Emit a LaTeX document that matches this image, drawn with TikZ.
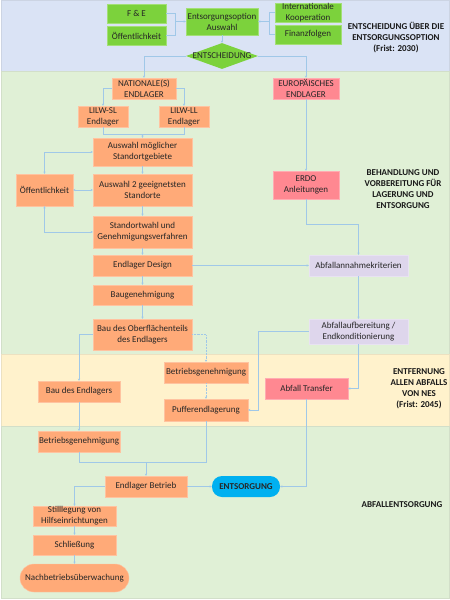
\documentclass[tikz,border=0pt]{standalone}
\usepackage{fontspec}
\setmainfont{Carlito}
\usepackage{xcolor}
\usetikzlibrary{
    arrows.meta,
    shapes.geometric,
    positioning
}
\definecolor{blueband}{RGB}{218,227,245}
\definecolor{greenband}{RGB}{224,240,214}
\definecolor{yellowband}{RGB}{255,242,204}
\definecolor{greenfill}{RGB}{124,210,60}
\definecolor{orangefill}{RGB}{255,170,120}
\definecolor{pinkfill}{RGB}{255,136,145}
\definecolor{lilafill}{RGB}{222,214,236}
\definecolor{pillblue}{RGB}{0,176,240}
\definecolor{linecol}{RGB}{160,200,232}
\tikzset{
    box/.style={rectangle, inner sep=0pt, align=center, text=black!85,
        font=\fontsize{9}{11}\selectfont, line width=0.4pt},
    greenbox/.style={box, fill=greenfill, draw=greenfill!70!white},
    orangebox/.style={box, fill=orangefill, draw=orangefill!70!white},
    pinkbox/.style={box, fill=pinkfill, draw=pinkfill!70!white},
    lilabox/.style={box, fill=lilafill, draw=lilafill!70!white},
    pillbox/.style={box, rounded corners=10pt},
    band/.style={line width=0.4pt},
    phase/.style={align=center, font=\fontsize{9}{11}\selectfont\bfseries, text=black!90},
    link/.style={draw=linecol, line width=0.45pt},
    arr/.style={link, -{Stealth[length=2.2pt,width=2.2pt]}},
    biarr/.style={link, {Stealth[length=2.2pt,width=2.2pt]}-{Stealth[length=2.2pt,width=2.2pt]}}
}

\begin{document}
\begin{tikzpicture}[x=1pt, y=-1pt]
    \useasboundingbox (0,0) rectangle (450,600);
    % bands
    \filldraw[band, fill=blueband, draw=blueband!85!gray] (1,0.5) rectangle (449,71);
    \filldraw[band, fill=greenband, draw=greenband!85!gray] (1,71) rectangle (449,354);
    \filldraw[band, fill=yellowband, draw=yellowband!85!gray] (1,354) rectangle (449,426);
    \filldraw[band, fill=greenband, draw=greenband!85!gray] (1,426) rectangle (449,598);

    \node[phase] (lblentsch) at (396,38) {ENTSCHEIDUNG ÜBER DIE\\ENTSORGUNGSOPTION\\(Frist: 2030)};
    \node[phase] (lblbehand) at (403,189) {BEHANDLUNG UND\\VORBEREITUNG FÜR\\LAGERUNG UND\\ENTSORGUNG};
    \node[phase] (lblentfern) at (419,389) {ENTFERNUNG\\ALLEN ABFALLS\\VON NES\\(Frist: 2045)};
    \node[phase] (lblabfall) at (402,505) {ABFALLENTSORGUNG};

    % option
    \node[greenbox, minimum width=59, minimum height=19] (fe) at (136.5,13.5) {F \& E};
    \node[greenbox, minimum width=59, minimum height=19] (oeffa) at (136.5,35.5) {Öffentlichkeit};
    \node[greenbox, minimum width=72, minimum height=27] (option) at (222,21.5) {Entsorgungsoption\\Auswahl};
    \node[greenbox, minimum width=66, minimum height=19] (intl) at (308,12.5) {Internationale\\Kooperation};
    \node[greenbox, minimum width=66, minimum height=19] (finanz) at (308,34.5) {Finanzfolgen};
    \node[diamond, fill=greenfill, inner sep=0pt, minimum width=72, minimum height=26,
        label={[box]center:ENTSCHEIDUNG}] (entsch) at (222,56) {};

    % national
    \node[orangebox, minimum width=64, minimum height=21] (nat) at (144,88.5) {NATIONALE(S)\\ENDLAGER};
    \node[pinkbox, minimum width=66, minimum height=21] (euro) at (306,88.5) {EUROPÄISCHES\\ENDLAGER};
    \node[orangebox, minimum width=50, minimum height=21] (lilwsl) at (103,116.5) {LILW-SL\\Endlager};
    \node[orangebox, minimum width=50, minimum height=21] (lilwll) at (184,116.5) {LILW-LL\\Endlager};
    \node[orangebox, minimum width=99, minimum height=28] (gebiete) at (142.5,152) {Auswahl möglicher\\Standortgebiete};
    \node[orangebox, minimum width=57, minimum height=32] (oeffb) at (44.5,190) {Öffentlichkeit};
    \node[orangebox, minimum width=99, minimum height=32] (orte) at (142.5,190) {Auswahl 2 geeignetsten\\Standorte};
    \node[orangebox, minimum width=99, minimum height=32] (standwahl) at (142.5,232) {Standortwahl und\\Genehmigungsverfahren};
    \node[orangebox, minimum width=99, minimum height=21] (design) at (142.5,265.5) {Endlager Design};
    \node[orangebox, minimum width=99, minimum height=20] (baugen) at (142.5,295) {Baugenehmigung};
    \node[orangebox, minimum width=99, minimum height=31] (oberfl) at (142.5,334.5) {Bau des Oberflächenteils\\des Endlagers};

    % waste
    \node[pinkbox, minimum width=66, minimum height=28] (erdo) at (306,185) {ERDO\\Anleitungen};
    \node[lilabox, minimum width=99, minimum height=21] (kriter) at (358.5,265.5) {Abfallannahmekriterien};
    \node[lilabox, minimum width=99, minimum height=25] (aufber) at (358.5,331.5) {Abfallaufbereitung /\\Endkonditionierung};
    \node[pinkbox, minimum width=83, minimum height=21] (transfer) at (306.5,388.5) {Abfall Transfer};

    % construction
    \node[orangebox, minimum width=84, minimum height=21] (betrgenb) at (206,372.5) {Betriebsgenehmigung};
    \node[orangebox, minimum width=84, minimum height=22] (puffer) at (206,410) {Pufferendlagerung};
    \node[orangebox, minimum width=82, minimum height=21] (bauend) at (79,391.5) {Bau des Endlagers};
    \node[orangebox, minimum width=82, minimum height=21] (betrgena) at (79,441.5) {Betriebsgenehmigung};

    % operation
    \node[orangebox, minimum width=82, minimum height=21] (betrieb) at (146,486.5) {Endlager Betrieb};
    \node[box, pillbox, fill=pillblue, minimum width=68, minimum height=21,
        font=\fontsize{9}{11}\selectfont\bfseries] (entsorg) at (246,486.5) {ENTSORGUNG};
    \node[orangebox, minimum width=83, minimum height=20] (stilll) at (74.5,516) {Stilllegung von\\Hilfseinrichtungen};
    \node[orangebox, minimum width=83, minimum height=20] (schliess) at (74.5,545) {Schließung};
    \node[orangebox, pillbox, rounded corners=14pt, minimum width=109, minimum height=28] (nachbetr) at (74.5,578) {Nachbetriebsüberwachung};

    % joints
    \coordinate (jopta) at (175,21.5);
    \coordinate (joptb) at (269,21.5);
    \coordinate (jlilw) at (142.5,134);
    \coordinate (jbetr) at (146,462);

    \draw[link] (fe.east) -| (jopta);
    \draw[link] (oeffa.east) -| (jopta);
    \draw[arr] (jopta) -- (option.west);
    \draw[link] (intl.west) -| (joptb);
    \draw[link] (finanz.west) -| (joptb);
    \draw[arr] (joptb) -- (option.east);
    \draw[arr] (option.south) -- (entsch.north);
    \draw[arr] (entsch.west) -| (nat.north);
    \draw[arr] (entsch.east) -| (euro.north);

    \draw[arr] (nat.west) -| (lilwsl.north);
    \draw[arr] (nat.east) -| (lilwll.north);
    \draw[link] (lilwsl.south) |- (jlilw);
    \draw[link] (lilwll.south) |- (jlilw);
    \draw[arr] (jlilw) -- (gebiete.north);
    \draw[arr] (gebiete.south) -- (orte.north);
    \draw[arr] (orte.south) -- (standwahl.north);
    \draw[arr] (standwahl.south) -- (design.north);
    \draw[arr] (design.south) -- (baugen.north);
    \draw[arr] (baugen.south) -- (oberfl.north);
    \draw[biarr] (oeffb.north) |- (gebiete.west);
    \draw[biarr] (oeffb.east) -- (orte.west);
    \draw[biarr] (oeffb.south) |- (standwahl.west);

    \draw[arr] (euro.south) -- (erdo.north);
    \draw[arr] (erdo.south) -- ++(0,25) -| (kriter.north);
    \draw[arr] (design.east) -- (kriter.west);
    \draw[arr] (kriter.south) -- (aufber.north);
    \draw[arr] (aufber.south) |- (transfer.east);
    \draw[arr] (aufber.west) -- ++(-51,0) |- (puffer.east);

    \draw[arr] (oberfl.west) -| (bauend.north);
    \draw[arr, densely dotted] (oberfl.east) -| (betrgenb.north);
    \draw[arr, densely dotted] (betrgenb.south) -- (puffer.north);
    \draw[arr] (bauend.south) -- (betrgena.north);
    \draw[link] (betrgena.south) |- (jbetr);
    \draw[link] (puffer.south) |- (jbetr);
    \draw[arr] (jbetr) -- (betrieb.north);

    \draw[arr] (transfer.south) |- (entsorg.east);
    \draw[arr] (betrieb.east) -- (entsorg.west);
    \draw[arr] (betrieb.west) -| (stilll.north);
    \draw[arr] (stilll.south) -- (schliess.north);
    \draw[arr] (schliess.south) -- (nachbetr.north);
\end{tikzpicture}
\end{document}
